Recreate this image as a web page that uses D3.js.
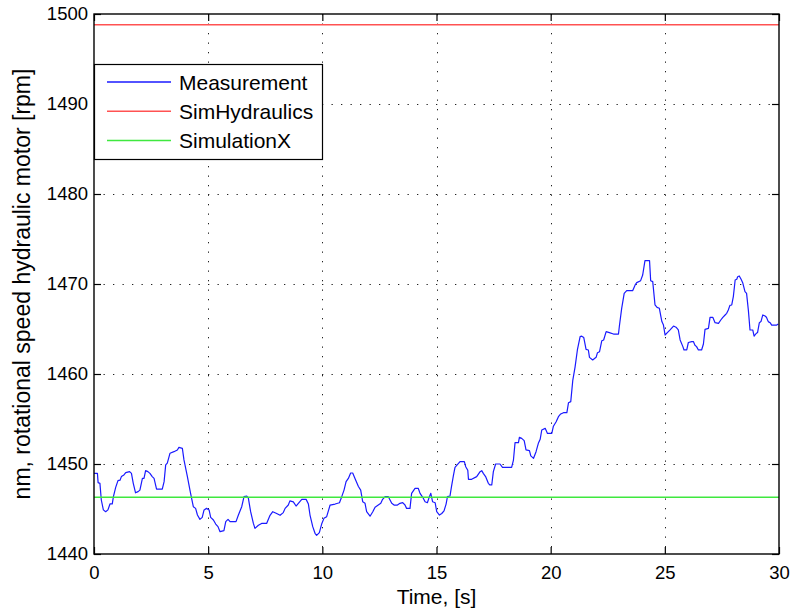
<!DOCTYPE html>
<html>
<head>
<meta charset="utf-8">
<script src="https://cdn.jsdelivr.net/npm/d3@7"></script>
<style>
  body { margin: 0; background: #fff; }
  text { font-family: "Liberation Sans", Arial, sans-serif; fill: #000; }
</style>
</head>
<body>
<script>
var time = [0, 0.15, 0.18, 0.26, 0.32, 0.41, 0.51, 0.61, 0.70, 0.80, 0.85, 0.95, 1.05, 1.14, 1.20, 1.31, 1.39, 1.56, 1.64, 1.72,
  1.82, 1.93, 2.01, 2.12, 2.19, 2.26, 2.36, 2.45, 2.55, 2.63, 2.74, 2.99, 3.07, 3.14, 3.21, 3.33, 3.50, 3.65, 3.72, 3.87,
  3.94, 4.09, 4.23, 4.35, 4.45, 4.53, 4.64, 4.74, 4.82, 4.93, 5.04, 5.11, 5.23, 5.33, 5.43, 5.52, 5.69, 5.77, 5.87, 5.96,
  6.22, 6.32, 6.47, 6.57, 6.69, 6.76, 6.86, 6.98, 7.05, 7.20, 7.34, 7.56, 7.71, 7.83, 8.00, 8.15, 8.29, 8.37, 8.51, 8.58,
  8.73, 8.85, 8.95, 9.10, 9.29, 9.39, 9.46, 9.58, 9.68, 9.75, 9.87, 9.97, 10.07, 10.19, 10.34, 10.56, 10.75, 10.85, 10.95, 11.04,
  11.14, 11.24, 11.33, 11.43, 11.58, 11.68, 11.77, 11.87, 11.94, 12.09, 12.21, 12.31, 12.45, 12.56, 12.64, 12.75, 12.89, 13.04, 13.14, 13.29,
  13.40, 13.52, 13.62, 13.69, 13.84, 13.91, 14.06, 14.20, 14.28, 14.42, 14.50, 14.60, 14.69, 14.75, 14.83, 14.94, 15.01, 15.13, 15.23, 15.33,
  15.42, 15.48, 15.59, 15.66, 15.74, 15.81, 16.03, 16.22, 16.28, 16.37, 16.40, 16.54, 16.76, 16.91, 16.98, 17.05, 17.15, 17.27, 17.34, 17.42,
  17.49, 17.59, 17.78, 17.89, 18.10, 18.29, 18.37, 18.44, 18.59, 18.63, 18.73, 18.84, 18.92, 19.07, 19.13, 19.25, 19.36, 19.46, 19.54, 19.61,
  19.76, 19.86, 20.05, 20.12, 20.24, 20.34, 20.44, 20.56, 20.71, 20.78, 20.88, 20.97, 21.07, 21.17, 21.29, 21.36, 21.45, 21.55, 21.65, 21.70,
  21.84, 21.99, 22.05, 22.14, 22.24, 22.32, 22.43, 22.57, 22.75, 22.97, 23.01, 23.11, 23.22, 23.33, 23.59, 23.70, 23.77, 23.94, 24.03, 24.13,
  24.33, 24.38, 24.47, 24.57, 24.66, 24.76, 24.87, 24.94, 25.01, 25.11, 25.23, 25.38, 25.49, 25.59, 25.67, 25.79, 25.84, 25.96, 26.03, 26.18,
  26.25, 26.32, 26.39, 26.47, 26.61, 26.69, 26.76, 26.91, 26.98, 27.10, 27.20, 27.35, 27.45, 27.54, 27.64, 27.71, 27.78, 27.85, 27.93, 28.00,
  28.08, 28.15, 28.19, 28.26, 28.34, 28.41, 28.51, 28.58, 28.66, 28.73, 28.85, 28.91, 29.00, 29.06, 29.14, 29.21, 29.29, 29.39, 29.45, 29.53,
  29.61, 29.68, 29.90, 29.97];

var measurement = [1448.96, 1448.96, 1447.93, 1447.85, 1446.0, 1444.9, 1444.7, 1444.9, 1445.56, 1445.56, 1446.37, 1447.4, 1448.15, 1448.2, 1448.6, 1448.78, 1449.04, 1449.15, 1448.96, 1447.85,
  1446.8, 1446.93, 1447.1, 1448.4, 1448.4, 1449.26, 1449.15, 1448.96, 1448.6, 1448.4, 1447.2, 1447.2, 1448.04, 1449.9, 1450.1, 1451.2, 1451.37, 1451.56, 1451.85, 1451.74,
  1450.45, 1448.6, 1446.74, 1445.26, 1445.07, 1444.33, 1443.85, 1444.07, 1444.9, 1445.07, 1444.9, 1444.07, 1443.78, 1443.33, 1443.04, 1442.48, 1442.6, 1443.6, 1443.85, 1443.6,
  1443.6, 1444.3, 1445.26, 1446.37, 1446.44, 1446.2, 1444.7, 1443.4, 1442.85, 1443.2, 1443.4, 1443.4, 1444.3, 1444.7, 1444.5, 1444.3, 1444.6, 1445.07, 1445.44, 1445.9,
  1445.8, 1445.33, 1445.63, 1446.07, 1446.07, 1445.55, 1444.33, 1443.04, 1442.3, 1442.07, 1442.37, 1443.33, 1443.96, 1444.15, 1445.44, 1445.55, 1445.7, 1446.37, 1447.1, 1448.04,
  1448.4, 1449.0, 1449.0, 1448.4, 1447.5, 1447.1, 1445.8, 1445.63, 1444.7, 1444.2, 1444.7, 1445.2, 1445.44, 1445.63, 1446.07, 1446.37, 1446.37, 1445.63, 1445.44, 1445.44,
  1445.63, 1445.7, 1445.44, 1445.07, 1445.07, 1446.74, 1447.3, 1447.3, 1446.74, 1446.2, 1445.8, 1445.7, 1446.37, 1446.74, 1445.8, 1445.7, 1444.7, 1444.33, 1444.5, 1444.8,
  1445.55, 1446.37, 1446.44, 1447.55, 1448.7, 1449.63, 1450.26, 1450.26, 1449.7, 1449.3, 1448.3, 1448.3, 1448.6, 1449.15, 1449.26, 1448.96, 1448.6, 1447.85, 1447.67, 1447.67,
  1449.15, 1450.0, 1450.0, 1449.63, 1449.63, 1449.63, 1450.44, 1452.37, 1452.37, 1452.96, 1452.85, 1452.6, 1451.56, 1451.48, 1450.9, 1450.63, 1451.37, 1452.3, 1452.74, 1453.78,
  1453.96, 1453.4, 1453.4, 1454.2, 1454.7, 1455.26, 1455.56, 1455.7, 1455.7, 1456.8, 1456.93, 1459.33, 1460.8, 1462.67, 1464.15, 1464.2, 1464.05, 1462.74, 1462.67, 1461.85,
  1461.56, 1461.85, 1462.37, 1462.48, 1463.7, 1463.78, 1464.7, 1464.6, 1464.44, 1464.44, 1465.33, 1467.3, 1468.96, 1469.26, 1469.26, 1469.9, 1470.15, 1470.37, 1471.0, 1472.6,
  1472.6, 1470.37, 1470.26, 1467.67, 1467.4, 1467.3, 1465.82, 1465.44, 1464.33, 1464.6, 1464.9, 1465.33, 1465.2, 1464.9, 1463.78, 1463.04, 1462.67, 1462.67, 1463.5, 1463.6,
  1463.6, 1463.2, 1463.04, 1462.67, 1462.67, 1463.33, 1464.96, 1465.07, 1466.3, 1466.3, 1465.7, 1465.63, 1466.0, 1466.3, 1466.56, 1466.74, 1467.11, 1467.63, 1467.67, 1468.6,
  1470.44, 1470.52, 1470.81, 1470.89, 1470.52, 1470.15, 1469.15, 1468.96, 1467.04, 1464.89, 1464.89, 1464.2, 1464.5, 1464.6, 1465.7, 1465.82, 1466.56, 1466.44, 1466.3, 1465.82,
  1465.7, 1465.44, 1465.44, 1465.55];

// the two simulations are flat lines
var simTime = [0, 30];
var simHydraulics = [1498.8, 1498.8];
var simulationX = [1446.3, 1446.3];

var xTicks = [0, 5, 10, 15, 20, 25, 30];
var yTicks = [1440, 1450, 1460, 1470, 1480, 1490, 1500];
var names = ["Measurement", "SimHydraulics", "SimulationX"];
var colors = ["#1a1aff", "#ff5252", "#3fe83f"];

var width = 795, height = 614;
// plot box (window.top is reserved, so use a margin object)
var box = {left: 94, right: 779, top: 14, bottom: 554};

var svg = d3.select("body").append("svg")
  .attr("width", width)
  .attr("height", height);

var x = d3.scaleLinear().domain([0, 30]).range([box.left, box.right]);
var y = d3.scaleLinear().domain([1440, 1500]).range([box.bottom, box.top]);

// grid
var grid = svg.append("g")
  .attr("stroke", "#222")
  .attr("stroke-width", 1)
  .attr("stroke-dasharray", "1.3,8.2");

grid.selectAll("line.gx")
  .data(xTicks.slice(1, -1))
  .enter().append("line")
  .attr("x1", d => Math.round(x(d)) + 0.5)
  .attr("x2", d => Math.round(x(d)) + 0.5)
  .attr("y1", box.top)
  .attr("y2", box.bottom);

grid.selectAll("line.gy")
  .data(yTicks.slice(1, -1))
  .enter().append("line")
  .attr("y1", d => Math.round(y(d)) + 0.5)
  .attr("y2", d => Math.round(y(d)) + 0.5)
  .attr("x1", box.left)
  .attr("x2", box.right);

// lines
var line = d3.line()
  .x(d => x(d[0]))
  .y(d => y(d[1]));

var series = [
  d3.zip(time, measurement),
  d3.zip(simTime, simHydraulics),
  d3.zip(simTime, simulationX)
];

svg.append("g")
  .selectAll("path")
  .data(series)
  .enter().append("path")
  .attr("d", line)
  .attr("fill", "none")
  .attr("stroke", (d, i) => colors[i])
  .attr("stroke-width", (d, i) => i == 0 ? 1.2 : 1.5)
  .attr("stroke-linejoin", "round");

// axes with inward ticks, on all four sides
function styleAxis(g) {
  g.select(".domain").remove();
  g.selectAll(".tick line").attr("stroke", "#000").attr("stroke-width", 1.2);
  g.selectAll(".tick text")
    .style("font-family", "Liberation Sans, Arial, sans-serif")
    .style("font-size", "18.5px");
}

var fmt = d3.format("d");

svg.append("g")
  .attr("transform", "translate(0," + box.bottom + ")")
  .call(d3.axisBottom(x).tickValues(xTicks).tickFormat(fmt).tickSizeInner(-7).tickSizeOuter(0).tickPadding(12))
  .call(styleAxis);

svg.append("g")
  .attr("transform", "translate(0," + box.top + ")")
  .call(d3.axisTop(x).tickValues(xTicks).tickSizeInner(-7).tickSizeOuter(0).tickFormat(""))
  .call(styleAxis);

svg.append("g")
  .attr("transform", "translate(" + box.left + ",0)")
  .call(d3.axisLeft(y).tickValues(yTicks).tickFormat(fmt).tickSizeInner(-7).tickSizeOuter(0).tickPadding(6))
  .call(styleAxis);

svg.append("g")
  .attr("transform", "translate(" + box.right + ",0)")
  .call(d3.axisRight(y).tickValues(yTicks).tickSizeInner(-7).tickSizeOuter(0).tickFormat(""))
  .call(styleAxis);

// box
svg.append("rect")
  .attr("x", box.left)
  .attr("y", box.top)
  .attr("width", box.right - box.left)
  .attr("height", box.bottom - box.top)
  .attr("fill", "none")
  .attr("stroke", "#000")
  .attr("stroke-width", 1.4);

// axis labels
svg.append("text")
  .attr("x", (box.left + box.right) / 2)
  .attr("y", 604)
  .attr("text-anchor", "middle")
  .style("font-size", "21px")
  .text("Time, [s]");

svg.append("text")
  .attr("transform", "translate(30," + ((box.top + box.bottom) / 2) + ") rotate(-90)")
  .attr("text-anchor", "middle")
  .style("font-size", "23px")
  .text("nm, rotational speed hydraulic motor [rpm]");

// legend
var legend = svg.append("g");

legend.append("rect")
  .attr("x", 94.5)
  .attr("y", 64.5)
  .attr("width", 228)
  .attr("height", 95)
  .attr("fill", "#fff")
  .attr("stroke", "#000")
  .attr("stroke-width", 1.2);

var item = legend.selectAll("g.item")
  .data(names)
  .enter().append("g")
  .attr("transform", (d, i) => "translate(0," + (82 + i * 29.3) + ")");

item.append("line")
  .attr("x1", 107)
  .attr("x2", 171)
  .attr("stroke", (d, i) => colors[i])
  .attr("stroke-width", 1.5);

item.append("text")
  .attr("x", 179)
  .attr("y", 7.5)
  .style("font-size", "21px")
  .text(d => d);
</script>
</body>
</html>
